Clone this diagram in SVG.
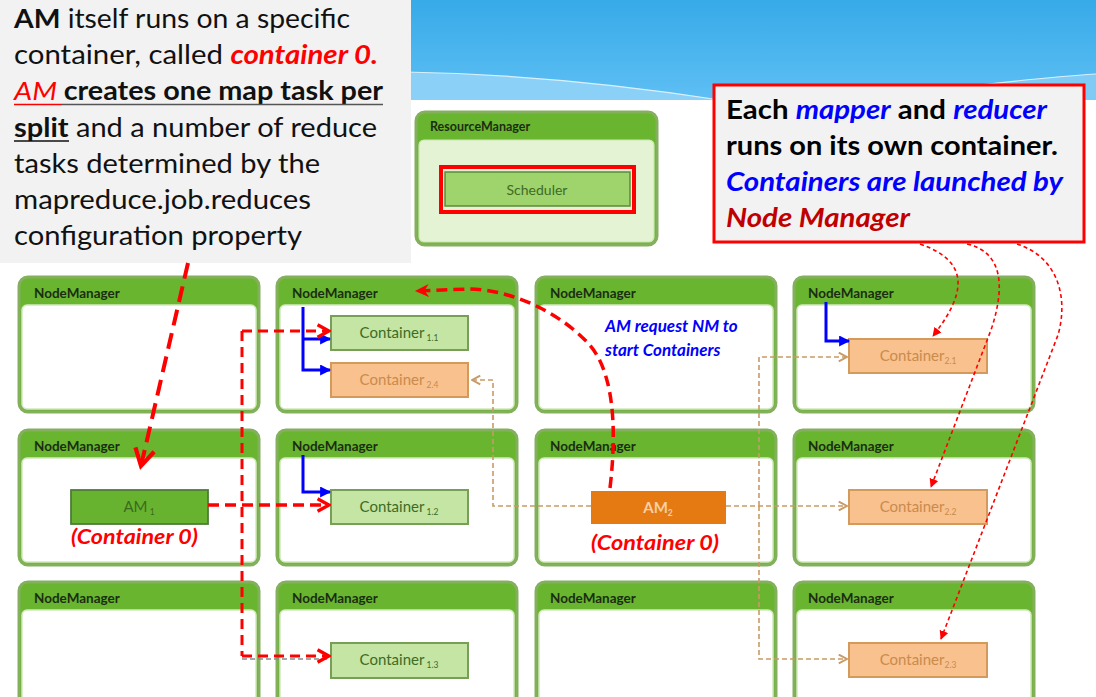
<svg xmlns="http://www.w3.org/2000/svg" width="1096" height="697" viewBox="0 0 1096 697">
<defs>
<linearGradient id="sky" x1="0" y1="0" x2="0" y2="1">
<stop offset="0" stop-color="#37aae8"/>
<stop offset="1" stop-color="#5ebff4"/>
</linearGradient>
<marker id="redChev" viewBox="0 0 14 14" refX="12" refY="7" markerWidth="16" markerHeight="16" markerUnits="userSpaceOnUse" orient="auto">
<path d="M2,1.5 L12,7 L2,12.5" fill="none" stroke="#ff0000" stroke-width="3"/>
</marker>
<marker id="redChevBig" viewBox="0 0 20 20" refX="17" refY="10" markerWidth="24" markerHeight="24" markerUnits="userSpaceOnUse" orient="auto">
<path d="M3,2 L17,10 L3,18" fill="none" stroke="#ff0000" stroke-width="3.5"/>
</marker>
<marker id="redHead" viewBox="0 0 14 14" refX="12" refY="7" markerWidth="15" markerHeight="15" markerUnits="userSpaceOnUse" orient="auto">
<path d="M0,1 L13,7 L0,13 L4,7 Z" fill="#ff0000"/>
</marker>
<marker id="redTri" viewBox="0 0 10 10" refX="9" refY="5" markerWidth="9" markerHeight="9" markerUnits="userSpaceOnUse" orient="auto">
<path d="M0,0 L10,5 L0,10 Z" fill="#ff0000"/>
</marker>
<marker id="blueTri" viewBox="0 0 10 10" refX="9" refY="5" markerWidth="11" markerHeight="11" markerUnits="userSpaceOnUse" orient="auto">
<path d="M0,0 L10,5 L0,10 Z" fill="#0000ff"/>
</marker>
<marker id="orChev" viewBox="0 0 10 10" refX="9" refY="5" markerWidth="11" markerHeight="11" markerUnits="userSpaceOnUse" orient="auto">
<path d="M1.5,1 L9,5 L1.5,9" fill="none" stroke="#c99a66" stroke-width="1.8"/>
</marker>
</defs>
<style>
.nm-head{fill:#69b530}
.nm-body{fill:#ffffff;stroke:#d2e9bd;stroke-width:1.5}
.nm-frame{fill:none;stroke:#84b05e;stroke-width:3}
.nm-title{font-family:Lato,"Liberation Sans",sans-serif;font-weight:bold;font-size:13.5px;fill:#1b2d10}
.c1{fill:#c4e5a3;stroke:#789f58;stroke-width:2}
.c2{fill:#f9c18d;stroke:#d39a5c;stroke-width:2}
.ct{font-family:Lato,"Liberation Sans",sans-serif;font-size:15px;text-anchor:middle}
.t1{fill:#3e6b24}
.t2{fill:#c98b4d}
.sub{font-size:8.5px}
.big{font-family:Lato,"Open Sans",sans-serif;font-size:26px;fill:#111111}
.call{font-family:Lato,"Open Sans",sans-serif;font-size:26px;font-weight:bold;fill:#000000}
.blueI{font-style:italic;fill:#0000ff}
.darkRedI{font-style:italic;fill:#c00000}
.redBI{font-weight:bold;font-style:italic;fill:#ff0000}
.redI{font-style:italic;fill:#ff0000}
.redlbl{font-family:Lato,"Open Sans",sans-serif;font-size:20px;font-weight:bold;font-style:italic;fill:#ff0000}
.bluelbl{font-family:Lato,"Open Sans",sans-serif;font-size:17px;font-weight:bold;font-style:italic;fill:#0000ff}
.redthick{fill:none;stroke:#ff0000;stroke-width:3.5;stroke-dasharray:11 6}
.redmid{fill:none;stroke:#ff0000;stroke-width:3;stroke-dasharray:10 6}
.redbig{fill:none;stroke:#ff0000;stroke-width:4;stroke-dasharray:16 8}
.redthin{fill:none;stroke:#ff0000;stroke-width:1.6;stroke-dasharray:4 3}
.blue{fill:none;stroke:#0000ff;stroke-width:3}
.orange{fill:none;stroke:#c99a66;stroke-width:1.6;stroke-dasharray:5 3}
</style>

<!-- background -->
<rect x="0" y="0" width="1096" height="697" fill="#ffffff"/>
<rect x="0" y="0" width="1096" height="100" fill="url(#sky)"/>
<path d="M405,72 C520,74 630,86 720,100 L405,100 Z" fill="#8bd0f6"/>
<path d="M405,72 C520,74 630,86 720,100" fill="none" stroke="#d8f0fc" stroke-width="1.2"/>
<path d="M860,100 C950,88 1030,78 1096,74 L1096,100 Z" fill="#7fcbf5"/>
<path d="M860,100 C950,88 1030,78 1096,74" fill="none" stroke="#d8f0fc" stroke-width="1.2"/>

<!-- left note -->
<g id="note-left">
<rect x="0" y="0" width="411" height="263" fill="#f2f2f2"/>
<text class="big" x="14" y="28" textLength="336" lengthAdjust="spacingAndGlyphs"><tspan font-weight="bold">AM</tspan> itself runs on a specific</text>
<text class="big" x="14" y="64" textLength="364" lengthAdjust="spacingAndGlyphs">container, called <tspan class="redBI">container 0.</tspan></text>
<text class="big" x="14" y="100" textLength="369" lengthAdjust="spacingAndGlyphs"><tspan class="redI">AM </tspan><tspan font-weight="bold">creates one map task per</tspan></text>
<line x1="14" y1="104.5" x2="62" y2="104.5" stroke="#ff0000" stroke-width="1.5"/>
<line x1="62" y1="104.5" x2="383" y2="104.5" stroke="#555555" stroke-width="1.5"/>
<text class="big" x="14" y="137" textLength="363" lengthAdjust="spacingAndGlyphs"><tspan font-weight="bold">split</tspan> and a number of reduce</text>
<line x1="14" y1="141" x2="69" y2="141" stroke="#111111" stroke-width="1.5"/>
<text class="big" x="14" y="173" textLength="306" lengthAdjust="spacingAndGlyphs">tasks determined by the</text>
<text class="big" x="14" y="209" textLength="297" lengthAdjust="spacingAndGlyphs">mapreduce.job.reduces</text>
<text class="big" x="14" y="245" textLength="288" lengthAdjust="spacingAndGlyphs">configuration property</text>
</g>

<!-- ResourceManager -->
<g id="resource-manager">
<rect x="416" y="112" width="241" height="133" rx="9" fill="#69b530"/>
<rect x="419" y="140" width="235" height="102" rx="5" fill="#e3f3d3" stroke="#cde6b5" stroke-width="1.2"/>
<rect x="416" y="112" width="241" height="133" rx="9" fill="none" stroke="#84b05e" stroke-width="3"/>
<text class="nm-title" x="430" y="131" style="font-size:12.5px">ResourceManager</text>
</g>
<g id="scheduler">
<rect x="445" y="172" width="185" height="34" fill="#9fd36c" stroke="#5d8a3c" stroke-width="1.5"/>
<rect x="441" y="167" width="193" height="45" fill="none" stroke="#ff0000" stroke-width="4"/>
<text class="ct t1" x="537" y="195" style="font-size:14px">Scheduler</text>
</g>

<!-- right callout -->
<g id="note-right">
<rect x="714" y="85" width="370" height="157" fill="#f2f2f2" stroke="#ff0000" stroke-width="3"/>
<text class="call" x="726" y="119" textLength="321" lengthAdjust="spacingAndGlyphs">Each <tspan class="blueI">mapper</tspan> and <tspan class="blueI">reducer</tspan></text>
<text class="call" x="726" y="155" textLength="332" lengthAdjust="spacingAndGlyphs">runs on its own container.</text>
<text class="call" x="726" y="191" textLength="337" lengthAdjust="spacingAndGlyphs"><tspan class="blueI">Containers are launched by</tspan></text>
<text class="call" x="726" y="227" textLength="184" lengthAdjust="spacingAndGlyphs"><tspan class="darkRedI">Node Manager</tspan></text>
</g>

<!-- NodeManagers row 1 -->
<g id="nm-1-1">
<rect class="nm-head" x="19" y="277" width="240" height="135" rx="9"/>
<rect class="nm-body" x="22" y="305" width="234" height="104" rx="5"/>
<rect class="nm-frame" x="19" y="277" width="240" height="135" rx="9"/>
<text class="nm-title" x="34" y="298">NodeManager</text>
</g>
<g id="nm-1-2">
<rect class="nm-head" x="277" y="277" width="240" height="135" rx="9"/>
<rect class="nm-body" x="280" y="305" width="234" height="104" rx="5"/>
<rect class="nm-frame" x="277" y="277" width="240" height="135" rx="9"/>
<text class="nm-title" x="292" y="298">NodeManager</text>
</g>
<g id="nm-1-3">
<rect class="nm-head" x="536" y="277" width="240" height="135" rx="9"/>
<rect class="nm-body" x="539" y="305" width="234" height="104" rx="5"/>
<rect class="nm-frame" x="536" y="277" width="240" height="135" rx="9"/>
<text class="nm-title" x="550" y="298">NodeManager</text>
</g>
<g id="nm-1-4">
<rect class="nm-head" x="794" y="277" width="240" height="135" rx="9"/>
<rect class="nm-body" x="797" y="305" width="234" height="104" rx="5"/>
<rect class="nm-frame" x="794" y="277" width="240" height="135" rx="9"/>
<text class="nm-title" x="808" y="298">NodeManager</text>
</g>

<!-- row 2 -->
<g id="nm-2-1">
<rect class="nm-head" x="19" y="430" width="240" height="135" rx="9"/>
<rect class="nm-body" x="22" y="458" width="234" height="104" rx="5"/>
<rect class="nm-frame" x="19" y="430" width="240" height="135" rx="9"/>
<text class="nm-title" x="34" y="451">NodeManager</text>
</g>
<g id="nm-2-2">
<rect class="nm-head" x="277" y="430" width="240" height="135" rx="9"/>
<rect class="nm-body" x="280" y="458" width="234" height="104" rx="5"/>
<rect class="nm-frame" x="277" y="430" width="240" height="135" rx="9"/>
<text class="nm-title" x="292" y="451">NodeManager</text>
</g>
<g id="nm-2-3">
<rect class="nm-head" x="536" y="430" width="240" height="135" rx="9"/>
<rect class="nm-body" x="539" y="458" width="234" height="104" rx="5"/>
<rect class="nm-frame" x="536" y="430" width="240" height="135" rx="9"/>
<text class="nm-title" x="550" y="451">NodeManager</text>
</g>
<g id="nm-2-4">
<rect class="nm-head" x="794" y="430" width="240" height="135" rx="9"/>
<rect class="nm-body" x="797" y="458" width="234" height="104" rx="5"/>
<rect class="nm-frame" x="794" y="430" width="240" height="135" rx="9"/>
<text class="nm-title" x="808" y="451">NodeManager</text>
</g>

<!-- row 3 -->
<g id="nm-3-1">
<rect class="nm-head" x="19" y="582" width="240" height="135" rx="9"/>
<rect class="nm-body" x="22" y="610" width="234" height="104" rx="5"/>
<rect class="nm-frame" x="19" y="582" width="240" height="135" rx="9"/>
<text class="nm-title" x="34" y="603">NodeManager</text>
</g>
<g id="nm-3-2">
<rect class="nm-head" x="277" y="582" width="240" height="135" rx="9"/>
<rect class="nm-body" x="280" y="610" width="234" height="104" rx="5"/>
<rect class="nm-frame" x="277" y="582" width="240" height="135" rx="9"/>
<text class="nm-title" x="292" y="603">NodeManager</text>
</g>
<g id="nm-3-3">
<rect class="nm-head" x="536" y="582" width="240" height="135" rx="9"/>
<rect class="nm-body" x="539" y="610" width="234" height="104" rx="5"/>
<rect class="nm-frame" x="536" y="582" width="240" height="135" rx="9"/>
<text class="nm-title" x="550" y="603">NodeManager</text>
</g>
<g id="nm-3-4">
<rect class="nm-head" x="794" y="582" width="240" height="135" rx="9"/>
<rect class="nm-body" x="797" y="610" width="234" height="104" rx="5"/>
<rect class="nm-frame" x="794" y="582" width="240" height="135" rx="9"/>
<text class="nm-title" x="808" y="603">NodeManager</text>
</g>

<!-- containers -->
<g id="container-1-1">
<rect class="c1" x="331" y="316" width="137" height="34"/>
<text class="ct t1" x="399" y="338">Container<tspan class="sub" dy="3"> 1.1</tspan></text>
</g>
<g id="container-2-4">
<rect class="c2" x="331" y="363" width="137" height="34"/>
<text class="ct t2" x="399" y="385">Container<tspan class="sub" dy="3"> 2.4</tspan></text>
</g>
<g id="container-2-1">
<rect class="c2" x="849" y="339" width="138" height="34"/>
<text class="ct t2" x="918" y="361">Container<tspan class="sub" dy="3">2.1</tspan></text>
</g>
<g id="am-1">
<rect x="71" y="490" width="137" height="34" fill="#67b32f" stroke="#4e7c3a" stroke-width="1.8"/>
<text class="ct" x="139" y="512" style="fill:#3b6a1e">AM<tspan class="sub" dy="3"> 1</tspan></text>
</g>
<g id="container-1-2">
<rect class="c1" x="331" y="490" width="137" height="34"/>
<text class="ct t1" x="399" y="512">Container<tspan class="sub" dy="3"> 1.2</tspan></text>
</g>
<g id="am-2">
<rect x="591" y="491" width="135" height="33" fill="#e57a12"/>
<text class="ct" x="658" y="513" style="fill:#f7d0a5;font-weight:bold">AM<tspan class="sub" dy="3">2</tspan></text>
</g>
<g id="container-2-2">
<rect class="c2" x="849" y="490" width="138" height="34"/>
<text class="ct t2" x="918" y="512">Container<tspan class="sub" dy="3">2.2</tspan></text>
</g>
<g id="container-1-3">
<rect class="c1" x="331" y="643" width="137" height="35"/>
<text class="ct t1" x="399" y="665">Container<tspan class="sub" dy="3"> 1.3</tspan></text>
</g>
<g id="container-2-3">
<rect class="c2" x="849" y="643" width="138" height="34"/>
<text class="ct t2" x="918" y="665">Container<tspan class="sub" dy="3">2.3</tspan></text>
</g>

<!-- labels -->
<g id="labels">
<text class="redlbl" x="71" y="544" textLength="127" lengthAdjust="spacingAndGlyphs">(Container 0)</text>
<text class="redlbl" x="591" y="550" textLength="128" lengthAdjust="spacingAndGlyphs">(Container 0)</text>
<text class="bluelbl" x="605" y="332">AM request NM to</text>
<text class="bluelbl" x="605" y="356">start Containers</text>
</g>

<!-- connectors -->
<g id="connectors">
<path class="orange" d="M591,506 H493 V380 H472" marker-end="url(#orChev)"/>
<path class="orange" d="M726,506 H847" marker-end="url(#orChev)"/>
<path class="orange" d="M759,506 V357 H847" marker-end="url(#orChev)"/>
<path class="orange" d="M759,506 V659 H847" marker-end="url(#orChev)"/>
<path d="M242,659 H330" fill="none" stroke="#8a8a8a" stroke-width="1.5" stroke-dasharray="5 3"/>
<path class="blue" d="M303,307 V370 H330" marker-end="url(#blueTri)"/>
<path class="blue" d="M303,339 H330" marker-end="url(#blueTri)"/>
<path class="blue" d="M826,302 V341 H849" marker-end="url(#blueTri)"/>
<path class="blue" d="M303,455 V492 H330" marker-end="url(#blueTri)"/>
<path class="redthick" d="M208,505 H329" marker-end="url(#redChev)"/>
<path class="redmid" d="M242,331 V656"/>
<path class="redmid" d="M242,331 H329" marker-end="url(#redChev)"/>
<path class="redmid" d="M242,656 H329" marker-end="url(#redChev)"/>
<path class="redbig" d="M188,263 L141,466" marker-end="url(#redChevBig)"/>
<path class="redthick" d="M610,488 C618,420 612,365 585,340 C555,310 510,290 470,289 L416,291" marker-end="url(#redHead)"/>
<path class="redthin" d="M920,244 C972,262 965,295 933,336" marker-end="url(#redTri)"/>
<path class="redthin" d="M967,244 C1002,252 1006,285 991,330 L931,487" marker-end="url(#redTri)"/>
<path class="redthin" d="M1017,244 C1060,258 1068,300 1058,335 L941,639" marker-end="url(#redTri)"/>
</g>
</svg>
